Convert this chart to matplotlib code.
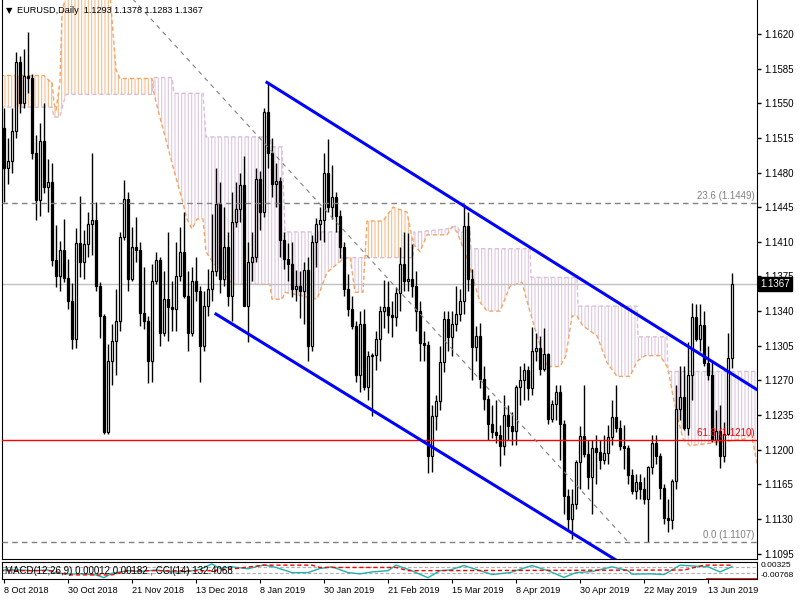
import numpy as np
import matplotlib.pyplot as plt
import matplotlib.transforms as mtransforms

plt.rcParams['font.family'] = ['Liberation Sans', 'DejaVu Sans']
plt.rcParams['hatch.linewidth'] = 0.8

# --- daily candles, EURUSD (8 Oct 2018 .. 21 Jun 2019), one entry per bar ---
opens = [
    1.1525, 1.1485, 1.1492, 1.1522, 1.1592, 1.1550, 1.1578, 1.1575, 1.1500, 1.1452,
    1.1512, 1.1465, 1.1470, 1.1392, 1.1375, 1.1402, 1.1373, 1.1350, 1.1312, 1.1409,
    1.1390, 1.1408, 1.1428, 1.1432, 1.1365, 1.1335, 1.1218, 1.1290, 1.1310, 1.1330,
    1.1415, 1.1453, 1.1372, 1.1405, 1.1402, 1.1338, 1.1330, 1.1290, 1.1370, 1.1392,
    1.1318, 1.1352, 1.1344, 1.1342, 1.1375, 1.1400, 1.1355, 1.1318, 1.1370, 1.1360,
    1.1305, 1.1345, 1.1362, 1.1380, 1.1448, 1.1372, 1.1405, 1.1355, 1.1430, 1.1443,
    1.1467, 1.1345, 1.1390, 1.1395, 1.1473, 1.1440, 1.1541, 1.1500, 1.1468, 1.1471,
    1.1412, 1.1393, 1.1388, 1.1362, 1.1365, 1.1360, 1.1382, 1.1305, 1.1410, 1.1428,
    1.1432, 1.1480, 1.1445, 1.1455, 1.1436, 1.1405, 1.1362, 1.1342, 1.1325, 1.1275,
    1.1327, 1.1263, 1.1295, 1.1296, 1.1312, 1.1340, 1.1344, 1.1336, 1.1334, 1.1358,
    1.1388, 1.1370, 1.1372, 1.1365, 1.1340, 1.1308, 1.1306, 1.1194, 1.1234, 1.1249,
    1.1289, 1.1332, 1.1314, 1.1327, 1.1337, 1.1350, 1.1426, 1.1372, 1.1304, 1.1315,
    1.1271, 1.1251, 1.1226, 1.1218, 1.1215, 1.1204, 1.1235, 1.1224, 1.1219, 1.1263,
    1.1270, 1.1280, 1.1262, 1.1300, 1.1303, 1.1281, 1.1297, 1.1231, 1.1246, 1.1258,
    1.1226, 1.1153, 1.1130, 1.1145, 1.1188, 1.1214, 1.1196, 1.1172, 1.1202, 1.1198,
    1.1190, 1.1197, 1.1213, 1.1233, 1.1222, 1.1204, 1.1202, 1.1174, 1.1158, 1.1167,
    1.1160, 1.1150, 1.1182, 1.1207, 1.1194, 1.1161, 1.1131, 1.1129, 1.1168, 1.1241,
    1.1253, 1.1222, 1.1275, 1.1334, 1.1312, 1.1326, 1.1288, 1.1275, 1.1210, 1.1219,
    1.1194, 1.1216, 1.1293,
]
highs = [
    1.1545, 1.1515, 1.1545, 1.1602, 1.1598, 1.1605, 1.1622, 1.1580, 1.1518, 1.1530,
    1.1550, 1.1494, 1.1490, 1.1427, 1.1411, 1.1433, 1.1393, 1.1368, 1.1424, 1.1456,
    1.1422, 1.1440, 1.1500, 1.1450, 1.1369, 1.1337, 1.1307, 1.1327, 1.1362, 1.1420,
    1.1472, 1.1460, 1.1425, 1.1435, 1.1410, 1.1385, 1.1335, 1.1388, 1.1400, 1.1395,
    1.1380, 1.1420, 1.1370, 1.1410, 1.1425, 1.1440, 1.1380, 1.1385, 1.1395, 1.1365,
    1.1360, 1.1383, 1.1438, 1.1485, 1.1470, 1.1445, 1.1420, 1.1460, 1.1470, 1.1480,
    1.1497, 1.1410, 1.1420, 1.1485, 1.1482, 1.1545, 1.1571, 1.1515, 1.1490, 1.1475,
    1.1420, 1.1409, 1.1410, 1.1382, 1.1380, 1.1390, 1.1395, 1.1417, 1.1434, 1.1445,
    1.1500, 1.1514, 1.1488, 1.1460, 1.1442, 1.1410, 1.1377, 1.1355, 1.1330, 1.1340,
    1.1342, 1.1300, 1.1298, 1.1320, 1.1345, 1.1371, 1.1370, 1.1350, 1.1364, 1.1405,
    1.1420, 1.1419, 1.1408, 1.1380, 1.1350, 1.1320, 1.1310, 1.1245, 1.1255, 1.1305,
    1.1340, 1.1340, 1.1340, 1.1365, 1.1362, 1.1448, 1.1440, 1.1383, 1.1325, 1.1328,
    1.1285, 1.1255, 1.1245, 1.1250, 1.1225, 1.1255, 1.1245, 1.1238, 1.1265, 1.1285,
    1.1288, 1.1285, 1.1324, 1.1318, 1.1315, 1.1323, 1.1298, 1.1250, 1.1265, 1.1265,
    1.1230, 1.1160, 1.1160, 1.1190, 1.1224, 1.1265, 1.1210, 1.1210, 1.1215, 1.1210,
    1.1215, 1.1225, 1.1250, 1.1265, 1.1230, 1.1225, 1.1205, 1.1180, 1.1175, 1.1175,
    1.1172, 1.1183, 1.1215, 1.1215, 1.1197, 1.1165, 1.1150, 1.1170, 1.1265, 1.1285,
    1.1285, 1.1309, 1.1348, 1.1347, 1.1347, 1.1340, 1.1305, 1.1290, 1.1240, 1.1245,
    1.1228, 1.1318, 1.1378,
]
lows = [
    1.1450, 1.1468, 1.1480, 1.1515, 1.1540, 1.1545, 1.1560, 1.1494, 1.1432, 1.1436,
    1.1459, 1.1440, 1.1386, 1.1364, 1.1360, 1.1369, 1.1342, 1.1302, 1.1303, 1.1374,
    1.1372, 1.1395, 1.1397, 1.1360, 1.1313, 1.1216, 1.1216, 1.1265, 1.1275, 1.1320,
    1.1412, 1.1360, 1.1370, 1.1390, 1.1325, 1.1322, 1.1267, 1.1268, 1.1367, 1.1305,
    1.1315, 1.1310, 1.1320, 1.1320, 1.1370, 1.1353, 1.1300, 1.1315, 1.1350, 1.1268,
    1.1300, 1.1335, 1.1350, 1.1375, 1.1358, 1.1365, 1.1345, 1.1330, 1.1425, 1.1430,
    1.1345, 1.1309, 1.1370, 1.1390, 1.1422, 1.1435, 1.1485, 1.1455, 1.1445, 1.1395,
    1.1383, 1.1370, 1.1354, 1.1350, 1.1333, 1.1327, 1.1290, 1.1300, 1.1385, 1.1412,
    1.1410, 1.1440, 1.1433, 1.1420, 1.1394, 1.1355, 1.1335, 1.1322, 1.1268, 1.1258,
    1.1260, 1.1250, 1.1234, 1.1280, 1.1290, 1.1323, 1.1318, 1.1314, 1.1325, 1.1340,
    1.1360, 1.1360, 1.1354, 1.1320, 1.1290, 1.1290, 1.1176, 1.1177, 1.1220, 1.1240,
    1.1278, 1.1300, 1.1295, 1.1320, 1.1330, 1.1337, 1.1360, 1.1270, 1.1290, 1.1262,
    1.1240, 1.1210, 1.1212, 1.1207, 1.1183, 1.1195, 1.1210, 1.1205, 1.1205, 1.1245,
    1.1250, 1.1250, 1.1255, 1.1290, 1.1275, 1.1279, 1.1226, 1.1228, 1.1230, 1.1190,
    1.1135, 1.1118, 1.1110, 1.1140, 1.1160, 1.1193, 1.1160, 1.1135, 1.1165, 1.1180,
    1.1185, 1.1185, 1.1205, 1.1218, 1.1200, 1.1180, 1.1165, 1.1155, 1.1150, 1.1150,
    1.1145, 1.1107, 1.1175, 1.1185, 1.1150, 1.1125, 1.1117, 1.1120, 1.1160, 1.1230,
    1.1220, 1.1215, 1.1250, 1.1310, 1.1300, 1.1285, 1.1270, 1.1208, 1.1205, 1.1181,
    1.1188, 1.1215, 1.1283,
]
closes = [
    1.1485, 1.1492, 1.1522, 1.1592, 1.1550, 1.1578, 1.1575, 1.1500, 1.1452, 1.1512,
    1.1465, 1.1470, 1.1392, 1.1375, 1.1402, 1.1373, 1.1350, 1.1312, 1.1409, 1.1390,
    1.1408, 1.1428, 1.1432, 1.1365, 1.1335, 1.1218, 1.1290, 1.1310, 1.1330, 1.1415,
    1.1453, 1.1372, 1.1405, 1.1402, 1.1338, 1.1330, 1.1290, 1.1370, 1.1392, 1.1318,
    1.1352, 1.1344, 1.1342, 1.1375, 1.1400, 1.1355, 1.1318, 1.1370, 1.1360, 1.1305,
    1.1345, 1.1362, 1.1380, 1.1448, 1.1372, 1.1405, 1.1355, 1.1430, 1.1443, 1.1467,
    1.1345, 1.1390, 1.1395, 1.1473, 1.1440, 1.1541, 1.1500, 1.1468, 1.1471, 1.1412,
    1.1393, 1.1388, 1.1362, 1.1365, 1.1360, 1.1382, 1.1305, 1.1410, 1.1428, 1.1432,
    1.1480, 1.1445, 1.1455, 1.1436, 1.1405, 1.1362, 1.1342, 1.1325, 1.1275, 1.1327,
    1.1263, 1.1295, 1.1296, 1.1312, 1.1340, 1.1344, 1.1336, 1.1334, 1.1358, 1.1388,
    1.1370, 1.1372, 1.1365, 1.1340, 1.1308, 1.1306, 1.1194, 1.1234, 1.1249, 1.1289,
    1.1332, 1.1314, 1.1327, 1.1337, 1.1350, 1.1426, 1.1372, 1.1304, 1.1315, 1.1271,
    1.1251, 1.1226, 1.1218, 1.1215, 1.1204, 1.1235, 1.1224, 1.1219, 1.1263, 1.1270,
    1.1280, 1.1262, 1.1300, 1.1303, 1.1281, 1.1297, 1.1231, 1.1246, 1.1258, 1.1226,
    1.1153, 1.1130, 1.1145, 1.1188, 1.1214, 1.1196, 1.1172, 1.1202, 1.1198, 1.1190,
    1.1197, 1.1213, 1.1233, 1.1222, 1.1204, 1.1202, 1.1174, 1.1158, 1.1167, 1.1160,
    1.1150, 1.1182, 1.1207, 1.1194, 1.1161, 1.1131, 1.1129, 1.1168, 1.1241, 1.1253,
    1.1222, 1.1275, 1.1334, 1.1312, 1.1326, 1.1288, 1.1275, 1.1210, 1.1219, 1.1194,
    1.1216, 1.1293, 1.1367,
]

tick_bars = [0, 16, 32, 48, 64, 80, 96, 112, 128, 144, 160, 176]
tick_labels = ["8 Oct 2018", "30 Oct 2018", "21 Nov 2018", "13 Dec 2018",
               "8 Jan 2019", "30 Jan 2019", "21 Feb 2019", "15 Mar 2019",
               "8 Apr 2019", "30 Apr 2019", "22 May 2019", "13 Jun 2019"]
price_ticks = [1.1620, 1.1585, 1.1550, 1.1515, 1.1480, 1.1445, 1.1410, 1.1375,
               1.1340, 1.1305, 1.1270, 1.1235, 1.1200, 1.1165, 1.1130, 1.1095]

# ichimoku cloud (senkou span A / B) at break points
cloud_bar = [-1, 10, 11.5, 12, 12.5, 13, 14, 14.5, 15.5, 26.5, 28, 29, 37, 37.5, 38.5,
             42, 42.5, 44.5, 45.75, 47, 48.25, 49.75, 50.5, 52.25, 57.25, 66.5, 67,
             69.5, 70.25, 78.25, 80.75, 84, 84.25, 86.5, 87.75, 89.75, 90.75, 94.75,
             97.25, 100.75, 102.25, 102.5, 104, 105.75, 110.75, 112, 113.25, 114,
             116.5, 116.75, 119, 120.75, 124, 126.5, 129.5, 131.5, 131.75, 133.25,
             135.75, 139, 140.5, 142, 143.25, 143.5, 144.75, 148.25, 150.75, 153.25,
             156.5, 158.25, 158.5, 160.25, 164, 165.75, 166, 167.25, 168.5, 169.75,
             171.5, 185.75, 186.75, 188.5]
span_a = [1.1578, 1.1578, 1.1572, 1.1572, 1.1550, 1.1543, 1.1572, 1.1641, 1.1660, 1.1660,
          1.1584, 1.1575, 1.1575, 1.1560, 1.1543, 1.1490, 1.1482, 1.1453, 1.1433, 1.1423,
          1.1433, 1.1433, 1.1400, 1.1389, 1.1367, 1.1367, 1.1352, 1.1352, 1.1359, 1.1352,
          1.1379, 1.1390, 1.1391, 1.1395, 1.1359, 1.1359, 1.1431, 1.1431, 1.1445, 1.1440,
          1.1409, 1.1407, 1.1400, 1.1417, 1.1417, 1.1425, 1.1420, 1.1412, 1.1385, 1.1380,
          1.1349, 1.1340, 1.1340, 1.1365, 1.1369, 1.1339, 1.1336, 1.1315, 1.1284, 1.1284,
          1.1295, 1.1335, 1.1335, 1.1333, 1.1325, 1.1315, 1.1288, 1.1274, 1.1274, 1.1289,
          1.1290, 1.1295, 1.1295, 1.1284, 1.1282, 1.1254, 1.1231, 1.1211, 1.1204, 1.1211,
          1.1218, 1.1181]
span_b = [1.1546, 1.1546, 1.1546, 1.1546, 1.1536, 1.1536, 1.1536, 1.1545, 1.1559, 1.1559,
          1.1559, 1.1559, 1.1559, 1.1576, 1.1576, 1.1576, 1.1560, 1.1560, 1.1560, 1.1560,
          1.1560, 1.1560, 1.1516, 1.1516, 1.1516, 1.1516, 1.1506, 1.1506, 1.1420, 1.1420,
          1.1420, 1.1420, 1.1394, 1.1394, 1.1394, 1.1394, 1.1394, 1.1394, 1.1394, 1.1394,
          1.1394, 1.1420, 1.1420, 1.1421, 1.1423, 1.1425, 1.1426, 1.1420, 1.1420, 1.1403,
          1.1403, 1.1403, 1.1403, 1.1403, 1.1403, 1.1403, 1.1374, 1.1374, 1.1374, 1.1374,
          1.1374, 1.1374, 1.1374, 1.1345, 1.1345, 1.1345, 1.1345, 1.1345, 1.1345, 1.1345,
          1.1314, 1.1314, 1.1314, 1.1314, 1.1279, 1.1279, 1.1279, 1.1279, 1.1279, 1.1279,
          1.1279, 1.1279]

# drawn objects
upper_bar = [65.75, 188.5]
upper_price = [1.1571, 1.1260]
lower_bar = [53, 156]
lower_price = [1.1337, 1.1081]
fibline_bar = [30, 156]
fibline_price = [1.1665, 1.1107]
fib_prices = [1.1449, 1.1210, 1.1107]
fib_names = ["23.6", "61.8", "0.0"]
last_price = 1.1367

# sub window (CCI and MACD lines)
cci_bar = [-1, 4, 7, 11, 13, 16, 20, 23, 25, 27, 31, 34, 38, 42, 46, 49, 52, 54, 57, 61,
           65, 68, 72, 76, 79, 82, 86, 89, 92, 96, 98, 101.5, 106, 109, 111.5, 115, 118,
           122, 126.5, 132, 136, 140, 143, 147, 152, 156, 157, 161.5, 165, 167, 169, 172,
           176, 179, 182]
cci_val = [0, 0, -25, 0, -125, -150, -150, -190, -300, -125, -25, -60, 0, -75, -60, 25,
           240, 60, 125, 50, 200, 100, -100, -100, 60, 125, -100, -150, -75, -25, 190, 0,
           -300, -25, 0, 175, 25, -175, -100, 175, -25, -290, -100, -60, 125, -25, -160,
           -150, -175, 0, 190, 160, 125, -75, 132]
macd_bar = [-1, 12, 16, 27, 31, 52, 58, 65, 77, 79, 98, 101, 170, 175, 182]
macd_val = [-25, -25, -190, -190, -25, -25, 60, 190, 190, 100, 100, -25, 0, 190, 190]

o = np.array(opens)
h = np.array(highs)
l = np.array(lows)
c = np.array(closes)
idx = np.arange(len(o))

fig = plt.figure(figsize=(8, 6), dpi=100)
ax = fig.add_axes([0.0025, 0.0683, 0.94375, 0.9317])
sub = fig.add_axes([0.0025, 0.035, 0.94375, 0.0283])

# cloud
cb = np.array(cloud_bar)
sa = np.array(span_a)
sb = np.array(span_b)
ax.fill_between(cb, sa, sb, where=sa >= sb, interpolate=True, facecolor='none',
                edgecolor='#F6BC8C', hatch='|||||', linewidth=0, zorder=1)
ax.fill_between(cb, sa, sb, where=sa < sb, interpolate=True, facecolor='none',
                edgecolor='#DCC8DC', hatch='|||||', linewidth=0, zorder=1)
ax.plot(cb, sa, color='#F4A460', lw=1, ls=(0, (3, 2)), zorder=2)
ax.plot(cb, sb, color='#D8BFD8', lw=1, ls=(0, (3, 2)), zorder=2)

# horizontal lines
ax.axhline(last_price, color='#C0C0C0', lw=1, zorder=2)
for p, name in zip(fib_prices, fib_names):
    col = 'red' if name == "61.8" else '#808080'
    ls = '-' if name == "61.8" else (0, (4, 3))
    ax.axhline(p, color=col, lw=1, ls=ls, zorder=5)
    ax.text(187.7, p + 0.0002, f"{name} ({p:.4f})", color=col, fontsize=7,
            ha='right', va='bottom', zorder=6)
ax.plot(fibline_bar, fibline_price, color='#808080', lw=0.8, ls=(0, (4, 4)), zorder=5)

# candles
up = c >= o
body_lo = np.minimum(o, c)
body_h = np.maximum(np.abs(c - o), 0.00004)
ax.vlines(idx, l, h, color='black', lw=1, zorder=3)
ax.bar(idx[up], body_h[up], bottom=body_lo[up], width=0.62, color='white',
       edgecolor='black', linewidth=0.9, zorder=4)
ax.bar(idx[~up], body_h[~up], bottom=body_lo[~up], width=0.62, color='black',
       edgecolor='black', linewidth=0.9, zorder=4)

# channel
ax.plot(upper_bar, upper_price, color='#0000FF', lw=2.2, zorder=6)
ax.plot(lower_bar, lower_price, color='#0000FF', lw=2.2, zorder=6)

ax.set_xlim(-0.5, 188.25)
ax.set_ylim(1.10895, 1.16543)
ax.set_xticks([])
ax.set_yticks(price_ticks)
ax.set_yticklabels([f"{p:.4f}" for p in price_ticks])
ax.tick_params(axis='y', left=False, right=True, labelleft=False, labelright=True,
               length=3, pad=2, labelsize=7, width=1)
for s in ax.spines.values():
    s.set_color('black')
ax.spines['top'].set_visible(False)

trans = mtransforms.blended_transform_factory(ax.transAxes, ax.transData)
ax.text(1.004, last_price, f"{last_price:.4f}", transform=trans, color='white',
        fontsize=7, ha='left', va='center', zorder=10,
        bbox=dict(boxstyle='square,pad=0.2', facecolor='black', edgecolor='black'))

fig.text(0.008, 0.982, "\u25BC", fontsize=6, ha='left', va='center',
         family=['DejaVu Sans'])
fig.text(0.021, 0.982, "EURUSD,Daily  1.1293 1.1378 1.1283 1.1367",
         fontsize=6.6, ha='left', va='center')

# sub window
sub.axhline(100, color='#B0B0B0', lw=0.8, ls=(0, (3, 2)))
sub.axhline(-100, color='#B0B0B0', lw=0.8, ls=(0, (3, 2)))
sub.plot(cci_bar, cci_val, color='#20B2AA', lw=1)
sub.plot(macd_bar, macd_val, color='red', lw=1, ls=(0, (3, 2)))
sub.axhline(-345, xmin=0.934, xmax=1.0, color='red', lw=2)
sub.set_xlim(-0.5, 188.25)
sub.set_ylim(-350, 312)
sub.set_yticks([])
sub.set_xticks(tick_bars)
sub.set_xticklabels(tick_labels, fontsize=6.6)
for t in sub.get_xticklabels():
    t.set_horizontalalignment('left')
sub.tick_params(axis='x', length=3, pad=2)
sub.text(0.004, 0.5, "MACD(12,26,9) 0.00012 0.00182 , CCI(14) 132.4068",
         transform=sub.transAxes, fontsize=7, ha='left', va='center')
fig.text(0.951, 0.057, "0.00325", fontsize=6, ha='left', va='center')
fig.text(0.951, 0.041, "-0.00768", fontsize=6, ha='left', va='center')

fig.savefig("out.png", dpi=100)
